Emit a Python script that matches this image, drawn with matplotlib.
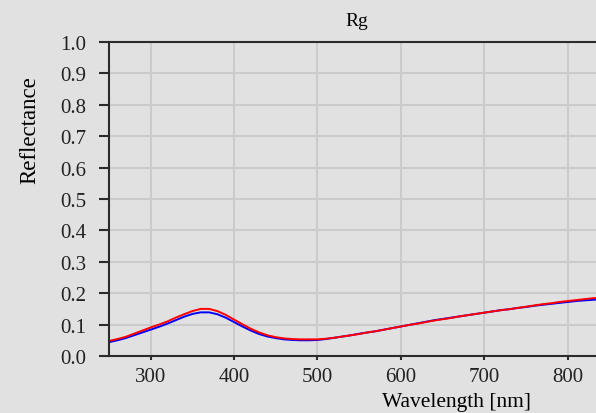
import matplotlib
matplotlib.use('agg')
import matplotlib.pyplot as plt
import numpy as np

# wavelength grid [nm] and reflectance
wavelength = np.arange(250, 850, 10)
rg_blue = [0.044, 0.050, 0.057, 0.066, 0.075, 0.084, 0.093, 0.103, 0.114, 0.125,
           0.134, 0.139, 0.139, 0.133, 0.122, 0.108, 0.094, 0.081, 0.070, 0.062,
           0.057, 0.053, 0.051, 0.050, 0.050, 0.051, 0.054, 0.058, 0.062, 0.066,
           0.071, 0.075, 0.079, 0.084, 0.089, 0.094, 0.099, 0.104, 0.109, 0.114,
           0.118, 0.122, 0.126, 0.130, 0.134, 0.138, 0.142, 0.146, 0.149, 0.153,
           0.156, 0.160, 0.163, 0.166, 0.169, 0.172, 0.175, 0.177, 0.179, 0.181]
rg_red = [0.048, 0.054, 0.061, 0.071, 0.081, 0.091, 0.100, 0.110, 0.122, 0.133,
          0.143, 0.150, 0.150, 0.143, 0.131, 0.116, 0.101, 0.087, 0.075, 0.066,
          0.060, 0.056, 0.054, 0.053, 0.053, 0.053, 0.055, 0.058, 0.062, 0.066,
          0.070, 0.075, 0.079, 0.084, 0.089, 0.094, 0.099, 0.103, 0.108, 0.113,
          0.117, 0.121, 0.126, 0.130, 0.134, 0.138, 0.142, 0.146, 0.149, 0.153,
          0.157, 0.161, 0.165, 0.168, 0.172, 0.175, 0.178, 0.181, 0.184, 0.186]
x_ticks = [300, 400, 500, 600, 700, 800]
y_ticks = np.round(np.arange(0, 1.01, 0.1), 1)

BG = '#e1e1e1'
DARK = '#2b2b2b'
W, H = 596, 414

plt.rcParams['font.family'] = ['Liberation Serif', 'DejaVu Serif']

fig = plt.figure(figsize=(W / 100, H / 100), dpi=100, facecolor=BG)
ax = fig.add_axes([109 / W, 57 / H, (W - 109) / W, 314 / H], facecolor=BG)

ax.plot(wavelength, rg_blue, color='#0000ff', lw=1.4)
ax.plot(wavelength, rg_red, color='#ff0000', lw=1.4)

ax.set_xlim(250, 834)
ax.set_ylim(0, 1.0)
ax.set_xticks(x_ticks)
ax.set_yticks(y_ticks)
ax.set_yticklabels([f'{v:.1f}' for v in y_ticks])
ax.grid(True, color='#cbcbcb', lw=1.5)
ax.set_axisbelow(True)

for side in ('left', 'bottom', 'top'):
    ax.spines[side].set_color(DARK)
    ax.spines[side].set_linewidth(1.5)
ax.spines['right'].set_visible(False)

ax.tick_params(axis='y', length=7.2, width=1.5, color=DARK, pad=9.0,
               labelsize=15, labelcolor='#222222')
ax.tick_params(axis='x', length=3, width=1.5, color=DARK, pad=5,
               labelsize=15, labelcolor='#222222')

fig.text(357 / W, 1 - 22 / H, 'Rg', ha='center', va='center', fontsize=14)
fig.text(456 / W, 1 - 403 / H, 'Wavelength [nm]', ha='center', va='center', fontsize=15.5)
fig.text(30 / W, 1 - 130 / H, 'Reflectance', ha='center', va='center',
         rotation=90, fontsize=16.5)

fig.savefig('out.png', dpi=100, facecolor=BG)
